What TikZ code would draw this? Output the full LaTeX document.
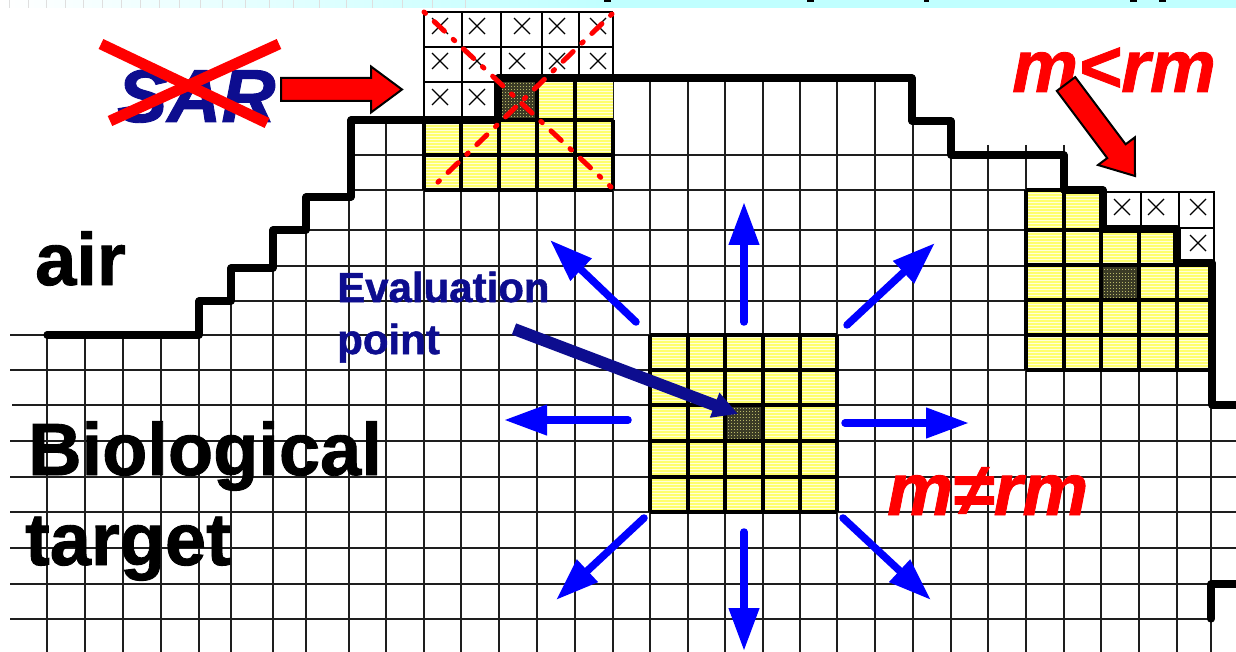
\documentclass[tikz,border=0pt]{standalone}
\usepackage{fontspec}
\setmainfont{Liberation Sans}[BoldFeatures={FakeBold=1.2},BoldItalicFeatures={FakeBold=1.2}]
\usetikzlibrary{arrows.meta,calc}
\definecolor{navytext}{HTML}{0D0D8F}
\definecolor{pureblue}{HTML}{0000FF}
\definecolor{purered}{HTML}{FF0000}
\definecolor{bandcyan}{HTML}{C0FFFF}
\definecolor{paleyellow}{HTML}{FFFFD8}
\definecolor{stripeyellow}{HTML}{FFFF6C}
\definecolor{darkcell}{HTML}{3C3C26}
\definecolor{dotcolor}{HTML}{B8B868}
\definecolor{gridcolor}{HTML}{1E1E1E}
\tikzset{
  gridline/.style={draw=gridcolor,line width=1.6pt},
  patchline/.style={draw=black,line width=3.6pt},
  stairline/.style={draw=black,line width=7.2pt,line cap=round,line join=round},
  boxline/.style={draw=black,line width=1.5pt},
  xmark/.style={draw=black,line width=1.3pt},
  label/.style={anchor=base west,inner sep=0pt,font=\bfseries\fontsize{74}{74}\selectfont},
  smalllabel/.style={anchor=base west,inner sep=0pt,text=navytext,font=\bfseries\fontsize{42}{42}\selectfont},
  redlabel/.style={anchor=base west,inner sep=0pt,text=purered,font=\bfseries\itshape\fontsize{74}{74}\selectfont},
  bluearrow/.style={draw=pureblue,line width=7.5pt,line cap=round,-{Triangle[length=43pt,width=29pt,fill=pureblue]}},
  navyarrow/.style={draw=navytext,line width=12pt,-{Triangle[length=25pt,width=25pt,fill=navytext]}},
  crossline/.style={draw=purered,line width=11pt},
  dashcross/.style={draw=purered,line width=5pt,line cap=round,dash pattern=on 2pt off 12pt on 14pt off 12pt},
  blockarrow/.style={draw=black,fill=purered,line width=2pt,line join=miter,
    to path={
      -- ($(\tikztostart)!#1!90:(\tikztotarget)$)
      -- ($(\tikztotarget)!31pt!(\tikztostart)!#1!90:(\tikztotarget)$)
      -- ($(\tikztotarget)!31pt!(\tikztostart)!23pt!90:(\tikztotarget)$)
      -- (\tikztotarget)
      -- ($(\tikztotarget)!31pt!(\tikztostart)!23pt!-90:(\tikztotarget)$)
      -- ($(\tikztotarget)!31pt!(\tikztostart)!#1!-90:(\tikztotarget)$)
      -- ($(\tikztostart)!#1!-90:(\tikztotarget)$)
      -- cycle}},
}
\newcommand{\stripepatch}[4]{%
  \begin{scope}
    \clip (#1,#2) rectangle (#3,#4);
    \fill[paleyellow] (#1,#2) rectangle (#3,#4);
    \foreach \yy in {0,3,...,651}{\draw[stripeyellow,line width=1.4pt] (#1,\yy) -- (#3,\yy);}
  \end{scope}}
\newcommand{\darkpatch}[4]{%
  \begin{scope}
    \clip (#1,#2) rectangle (#3,#4);
    \fill[darkcell] (#1,#2) rectangle (#3,#4);
    \foreach \yy in {0,3,...,651}{\draw[dotcolor,line width=1pt,dash pattern=on 1pt off 2pt] (#1,\yy) -- (#3,\yy);}
  \end{scope}}
\newcommand{\crossmark}[2]{%
  \draw[xmark] (#1-8,#2-8) -- (#1+8,#2+8) (#1-8,#2+8) -- (#1+8,#2-8);}
\begin{document}
\begin{tikzpicture}[x=1pt,y=-1pt]
\useasboundingbox (0,0) rectangle (1236,652);
\fill[white] (0,0) rectangle (1236,652);
\begin{scope}
\clip (0,0) rectangle (1236,652);
% top band
\shade[left color=white,right color=bandcyan] (0,0) rectangle (610,8);
\fill[bandcyan] (610,0) rectangle (1236,8);
\foreach \tx in {9,28,46,65,83,102,121,140,159,179,200,222,245,269,293,319,346,372,402,432,465}
  {\draw[gray!25,line width=0.8pt] (\tx,0) -- (\tx,8);}
\foreach \bx/\bw in {604/7,807/7,924/5,1130/7,1159/7}
  {\fill[black] (\bx,0) rectangle (\bx+\bw,2.5);}
% grid verticals
\foreach \vx/\vy in {47/335,85/335,123/335,161/335,199/335,231/301,273/268,306/230,349/197,386/120,424/120,461/120,499/78,537/78,575/78,613/78,650/78,688/78,725/78,763/78,800/78,837/78,875/78,913/78,951/121,988/145,1026/145,1064/145,1101/190,1139/228,1177/228,1211/263}
  {\draw[gridline] (\vx,\vy) -- (\vx,652);}
% grid horizontals
\foreach \hy/\ha/\hb in {155/351/951,190/351/1064,230/306/1177,266/231/1177,301/199/1213,335/10/1213,370/10/1213,405/12/1213,441/10/1236,477/10/1236,512/10/1236,548/10/1236,584/10/1211,619/10/1211}
  {\draw[gridline] (\ha,\hy) -- (\hb,\hy);}
% yellow patches
\stripepatch{424}{120}{613}{190}
\stripepatch{499}{82}{613}{120}
\stripepatch{1026}{190}{1103}{230}
\stripepatch{1026}{230}{1177}{265}
\stripepatch{1026}{265}{1211}{370}
\stripepatch{650}{335}{837}{512}
\darkpatch{499}{82}{537}{120}
\darkpatch{725}{405}{763}{441}
\darkpatch{1101}{265}{1139}{300}
% patch lines
\foreach \vx in {650,688,725,763,800,837}{\draw[patchline] (\vx,335) -- (\vx,512);}
\foreach \hy in {335,370,405,441,477,512}{\draw[patchline] (650,\hy) -- (837,\hy);}
\foreach \vx in {424,461,499,537,575,613}{\draw[patchline] (\vx,120) -- (\vx,190);}
\foreach \hy in {120,155,190}{\draw[patchline] (424,\hy) -- (613,\hy);}
\foreach \vx in {537,575}{\draw[patchline] (\vx,82) -- (\vx,120);}
\foreach \vx in {1026,1064}{\draw[patchline] (\vx,190) -- (\vx,370);}
\foreach \vx in {1101,1139}{\draw[patchline] (\vx,230) -- (\vx,370);}
\draw[patchline] (1177,265) -- (1177,370);
\draw[patchline] (1026,190) -- (1103,190);
\draw[patchline] (1026,230) -- (1103,230);
\foreach \hy in {265,300,335,370}{\draw[patchline] (1026,\hy) -- (1211,\hy);}
% excluded cells
\fill[white] (424,12) rectangle (613,79);
\fill[white] (424,79) rectangle (498,120);
\draw[boxline] (424,12) -- (613,12) (424,47) -- (613,47) (424,82) -- (498,82) (424,12) -- (424,120)
  (462,12) -- (462,120) (501,12) -- (501,78) (542,12) -- (542,78) (579,12) -- (579,78) (613,12) -- (613,78);
\foreach \cx/\cy in {440/26,477/26,522/26,557/26,598/26,440/61,477/61,517/61,557/61,598/61,440/97,477/97}{\crossmark{\cx}{\cy}}
\fill[white] (1104,192) rectangle (1214,228);
\fill[white] (1179,228) rectangle (1214,263);
\draw[boxline] (1103,192) -- (1214,192) -- (1214,263) (1141,192) -- (1141,228) (1179,192) -- (1179,263) (1179,228) -- (1214,228);
\foreach \cx/\cy in {1122/207,1156/207,1198/207,1198/243}{\crossmark{\cx}{\cy}}
% staircase boundary
\draw[stairline] (47,335) -- (199,335) -- (199,301) -- (231,301) -- (231,268) -- (273,268) -- (273,230) -- (306,230) -- (306,197) -- (351,197) -- (351,120) -- (498,120) -- (498,78) -- (912,78) -- (912,121) -- (951,121) -- (951,155) -- (1064,155) -- (1064,190) -- (1103,190) -- (1103,229) -- (1177,229) -- (1177,263) -- (1212,263) -- (1212,405) -- (1240,405);
\draw[stairline] (1240,584) -- (1211,584) -- (1211,619);
% texts
\node[label] (airlabel) at (35,285) {air};
\node[label] (biolabel) at (28,475) {Biological};
\node[label] (targetlabel) at (25,565) {target};
\node[smalllabel] (evallabel) at (337,302) {Evaluation};
\node[smalllabel] (pointlabel) at (337,354) {point};
\node[anchor=base west,inner sep=0pt,text=navytext,font=\bfseries\itshape\fontsize{75}{75}\selectfont] (sarlabel) at (117,122) {SAR};
\node[redlabel] (ltlabel) at (1012,92) {m<rm};
\node[redlabel] (nelabel) at (887,515) {m≠rm};
% red crosses
\coordinate (ca) at (101,44); \coordinate (cb) at (267,123);
\coordinate (cc) at (279,44); \coordinate (cd) at (110,121);
\draw[crossline] (ca) -- (cb);
\draw[crossline] (cc) -- (cd);
\coordinate (da) at (424,12); \coordinate (db) at (611,187);
\coordinate (dc) at (612,14); \coordinate (dd) at (434,186);
\draw[dashcross] (da) -- (db);
\draw[dashcross] (dc) -- (dd);
% block arrows
\coordinate (sarstart) at (281,89.5); \coordinate (sarend) at (402,89.5);
\path[blockarrow=11.5pt] (sarstart) to (sarend);
\coordinate (ltstart) at (1066,84); \coordinate (ltend) at (1135,176);
\path[blockarrow=11.5pt] (ltstart) to (ltend);
% blue arrows
\coordinate (cu0) at (744,322); \coordinate (cu1) at (744,202);
\coordinate (ur0) at (847,325); \coordinate (ur1) at (935,243);
\coordinate (ul0) at (636,322); \coordinate (ul1) at (550,240);
\coordinate (lf0) at (628,420); \coordinate (lf1) at (504,420);
\coordinate (rt0) at (845,423); \coordinate (rt1) at (969,423);
\coordinate (dr0) at (843,518); \coordinate (dr1) at (931,600);
\coordinate (dn0) at (744,532); \coordinate (dn1) at (744,651);
\coordinate (dl0) at (644,518); \coordinate (dl1) at (556,600);
\foreach \aa/\bb in {cu0/cu1,ur0/ur1,ul0/ul1,lf0/lf1,rt0/rt1,dr0/dr1,dn0/dn1,dl0/dl1}
  {\draw[bluearrow] (\aa) -- (\bb);}
% evaluation point arrow
\coordinate (ev0) at (514,329); \coordinate (ev1) at (738,414);
\draw[navyarrow] (ev0) -- (ev1);
\end{scope}
\end{tikzpicture}
\end{document}
